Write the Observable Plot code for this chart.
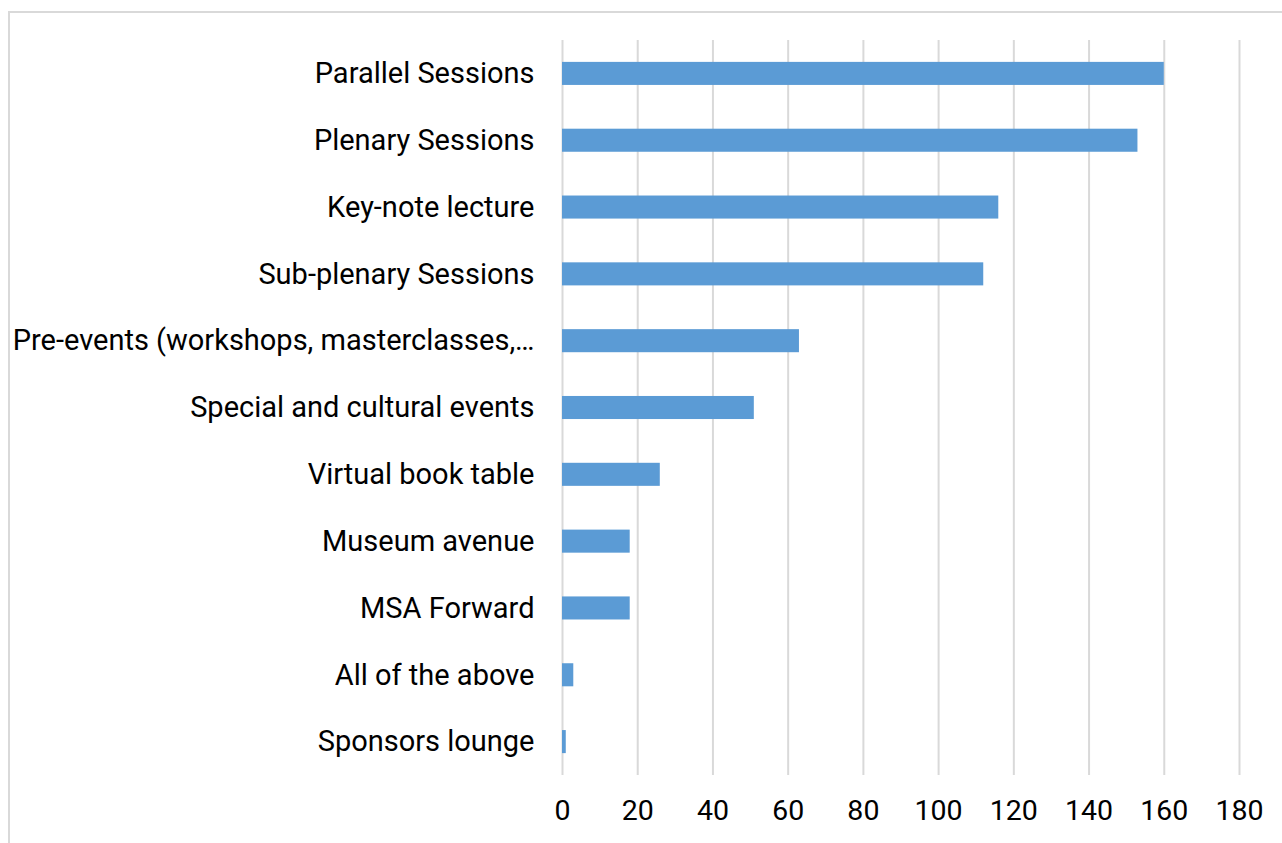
<!DOCTYPE html>
<html>
<head>
<meta charset="utf-8">
<script src="https://cdn.jsdelivr.net/npm/d3@7"></script>
<script src="https://cdn.jsdelivr.net/npm/@observablehq/plot@0.6"></script>
<style>
  html, body { margin: 0; padding: 0; background: #fff; overflow: hidden; }
  #frame { position: absolute; left: 8px; top: 11px; width: 1300px; height: 900px; border: 2px solid #d9d9d9; box-sizing: border-box; }
  #chart { position: absolute; left: 0; top: 0; }
</style>
</head>
<body>
<div id="frame"></div>
<div id="chart"></div>
<script>
const categories = [
  "Parallel Sessions",
  "Plenary Sessions",
  "Key-note lecture",
  "Sub-plenary Sessions",
  "Pre-events (workshops, masterclasses,…",
  "Special and cultural events",
  "Virtual book table",
  "Museum avenue",
  "MSA Forward",
  "All of the above",
  "Sponsors lounge"
];
const counts = [160, 153, 116, 112, 63, 51, 26, 18, 18, 3, 1];
const xTicks = [0, 20, 40, 60, 80, 100, 120, 140, 160, 180];

const data = categories.map((c, i) => ({category: c, count: counts[i]}));

const chart = Plot.plot({
  width: 1282,
  height: 843,
  marginLeft: 562,
  marginRight: 43,
  marginTop: 40,
  marginBottom: 68,
  style: {fontFamily: "Roboto, sans-serif", fontSize: "29px", color: "#000", background: "transparent"},
  x: {domain: [0, 180], ticks: xTicks, label: null},
  y: {domain: categories, paddingInner: 0.655, paddingOuter: 0.3275, round: false, label: null},
  marks: [
    Plot.ruleX(xTicks, {stroke: "#d9d9d9", strokeWidth: 2}),
    Plot.barX(data, {x: "count", y: "category", fill: "#5b9bd5"}),
    Plot.axisX({ticks: xTicks, tickSize: 0, tickPadding: 24, fontSize: 28.5, label: null}),
    Plot.axisY({tickSize: 0, tickPadding: 28, fontSize: 29, label: null})
  ]
});
document.getElementById("chart").appendChild(chart);
</script>
</body>
</html>
